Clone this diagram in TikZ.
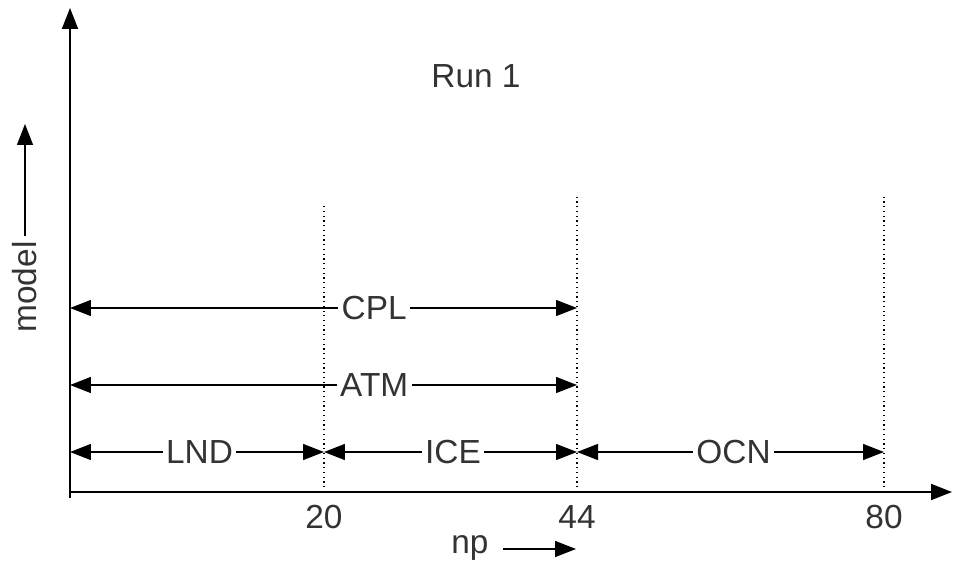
\documentclass[tikz,border=0pt]{standalone}
\usetikzlibrary{arrows.meta}
\usepackage{fontspec}
\setmainfont{Liberation Sans}
\definecolor{txtgray}{RGB}{51,51,51}

\begin{document}
\begin{tikzpicture}[x=0.02cm,y=-0.02cm,line width=0.8pt,
  >={Triangle[length=0.42cm,width=0.32cm]},
  lbl/.style={fill=white,inner sep=2pt,text=txtgray,font=\fontsize{19}{22}\selectfont},
  txt/.style={text=txtgray,font=\fontsize{19}{22}\selectfont},
  span/.style={<->,line width=0.8pt}]
\useasboundingbox (0,0) rectangle (954,568);
% origin and tick points
\coordinate (O) at (70,492);
\coordinate (T20) at (324,492);
\coordinate (T44) at (577,492);
\coordinate (T80) at (884,492);
% dotted boundaries
\draw[dotted,line width=0.7pt] (T20) -- (324,203);
\draw[dotted,line width=0.7pt] (T44) -- (577,197);
\draw[dotted,line width=0.7pt] (T80) -- (884,197);
% axes
\draw[->,line width=1.1pt] (70,498) -- (70,8);
\draw[->,line width=1.1pt] (O) -- (952,492);
% tick labels
\node[txt,below] (l20) at (324,499) {20};
\node[txt,below] (l44) at (577,499) {44};
\node[txt,below] (l80) at (884,499) {80};
% axis titles
\node[txt] (np) at (470,548) {np};
\coordinate (npa) at (503,549);
\coordinate (npb) at (576,549);
\draw[->] (npa) -- (npb);
\node[txt,rotate=90] (model) at (25,287) {model};
\coordinate (moa) at (25,236);
\coordinate (mob) at (25,124);
\draw[->] (moa) -- (mob);
\node[txt] (run) at (476,76) {Run 1};
% component spans
\coordinate (c0) at (70,308);  \coordinate (c44) at (577,308);
\coordinate (a0) at (70,385);  \coordinate (a44) at (577,385);
\coordinate (l0) at (70,452);  \coordinate (l20) at (324,452);
\coordinate (i44) at (577,452); \coordinate (o80) at (884,452);
\draw[span] (c0) -- node[lbl,pos=0.6] (cpl) {CPL} (c44);
\draw[span] (a0) -- node[lbl,pos=0.6] (atm) {ATM} (a44);
\draw[span] (l0) -- node[lbl,pos=0.51] (lnd) {LND} (l20);
\draw[span] (l20) -- node[lbl,pos=0.51] (ice) {ICE} (i44);
\draw[span] (i44) -- node[lbl,pos=0.51] (ocn) {OCN} (o80);
\end{tikzpicture}
\end{document}
